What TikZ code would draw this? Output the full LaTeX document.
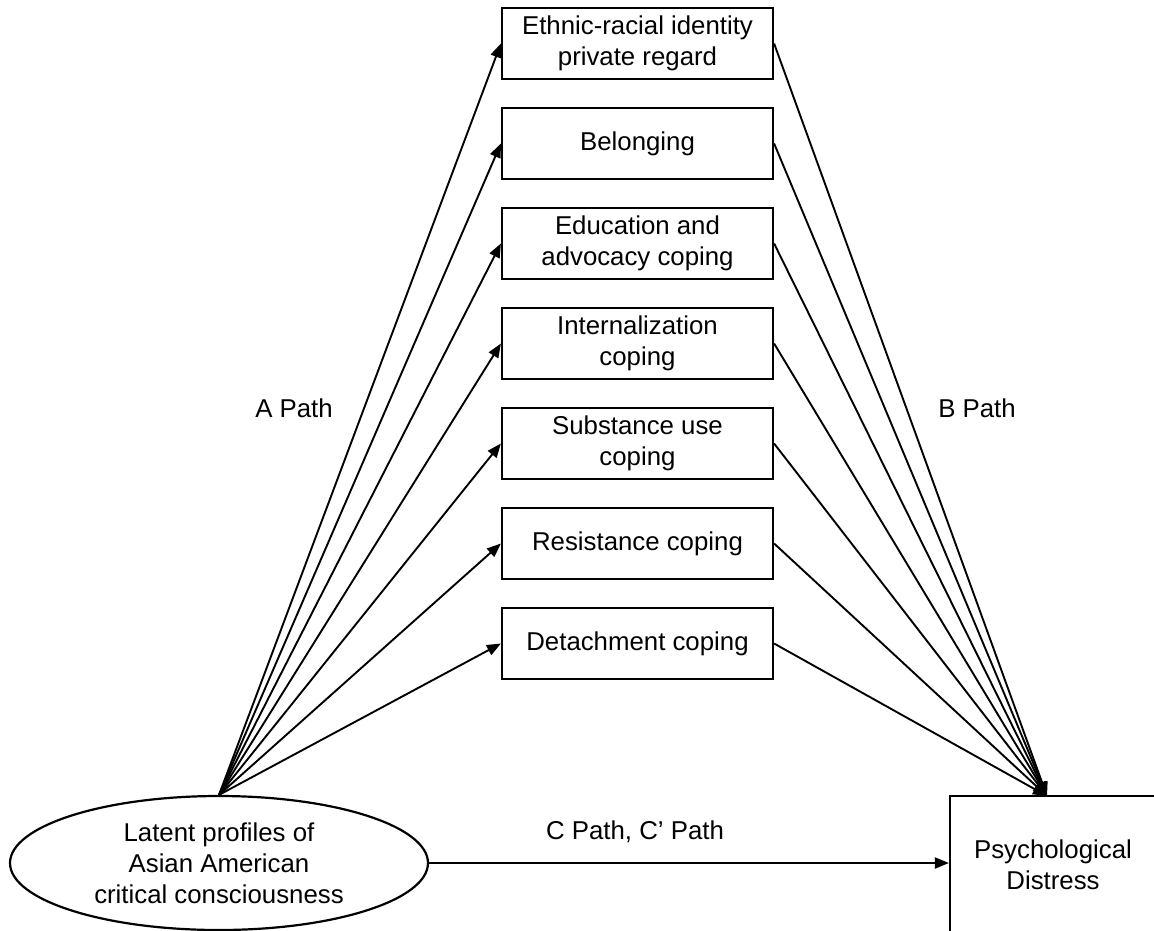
\documentclass[tikz,border=0pt]{standalone}
\usepackage{fontspec}
\setmainfont{Liberation Sans}
\usetikzlibrary{shapes.geometric,arrows.meta}
\tikzset{
  medbox/.style={draw, line width=2.2pt, minimum width=271pt, minimum height=71pt, align=center, inner sep=0pt},
  arr/.style={line width=1.9pt, -{Triangle[length=14pt,width=11pt]}},
  lbl/.style={inner sep=0pt, align=center}
}
\begin{document}
\begin{tikzpicture}[x=1pt,y=-1pt, font=\fontsize{25.8pt}{31pt}\selectfont]
\useasboundingbox (0,0) rectangle (1154,930);
\fill[white] (0,0) rectangle (1154,930);
\node[medbox] (m1) at (637.5,43.5) {Ethnic-racial identity\\private regard};
\node[medbox] (m2) at (637.5,143.5) {Belonging};
\node[medbox] (m3) at (637.5,243.5) {Education and\\advocacy coping};
\node[medbox] (m4) at (637.5,343.5) {Internalization\\coping};
\node[medbox] (m5) at (637.5,443.5) {Substance use\\coping};
\node[medbox] (m6) at (637.5,543.5) {Resistance coping};
\node[medbox] (m7) at (637.5,643.5) {Detachment coping};
\node[draw, ellipse, line width=2.2pt, minimum width=418pt, minimum height=134pt, inner sep=0pt, align=center] (ell) at (219,863) {Latent profiles of\\Asian American\\critical consciousness};
\node[draw, line width=2.2pt, minimum width=206pt, minimum height=138pt, inner sep=0pt, align=center] (dist) at (1053,865) {Psychological\\Distress};
\coordinate (bt) at (1047,796);
\foreach \i in {1,...,7} {
  \draw[arr] (ell.north) -- (m\i.west);
  \draw[arr] (m\i.east) -- (bt);
}
\draw[arr] (ell.east) -- (dist.west |- ell.east);
\node[lbl] (ap) at (294,408) {A Path};
\node[lbl] (bp) at (977,408) {B Path};
\node[lbl] (cp) at (635,832) {C Path, C’ Path};
\end{tikzpicture}
\end{document}
